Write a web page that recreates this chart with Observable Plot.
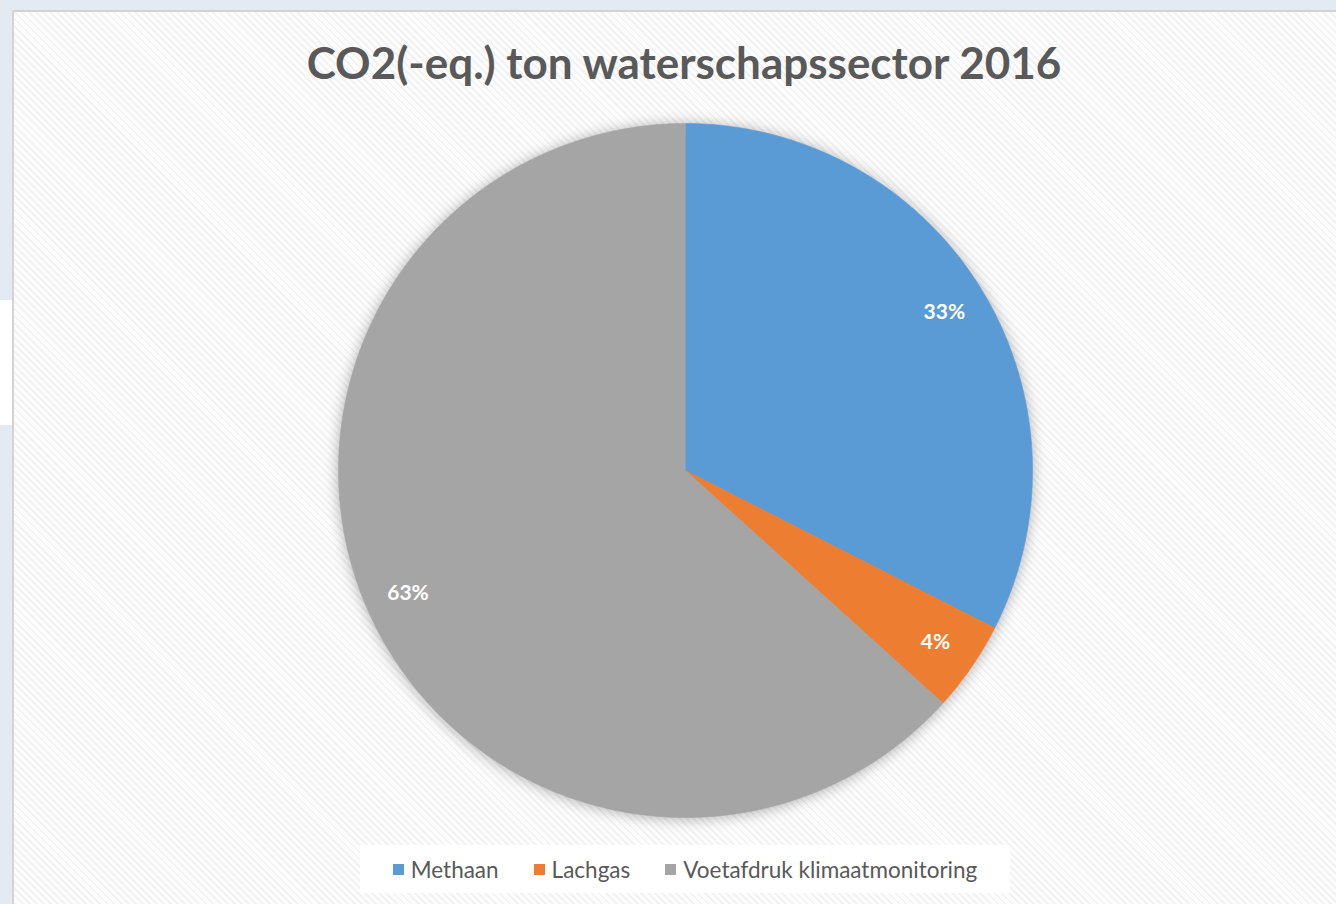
<!DOCTYPE html>
<html><head><meta charset="utf-8">
<script src="https://cdn.jsdelivr.net/npm/d3@7"></script>
<script src="https://cdn.jsdelivr.net/npm/@observablehq/plot@0.6"></script>
<style>
html,body{margin:0;padding:0;}
body{width:1336px;height:904px;background:#e3eaf1;position:relative;overflow:hidden;font-family:Lato,"Open Sans",sans-serif;}
#strip{position:absolute;left:0;top:300px;width:12px;height:125px;background:#fff;}
#frame{position:absolute;left:12px;top:10px;width:1340px;height:910px;box-sizing:border-box;border:2px solid #d3d3d3;
  background:repeating-linear-gradient(45deg,#f2f2f2 0px,#f2f2f2 2px,#fdfdfd 2px,#fdfdfd 5px);}
#title{position:absolute;left:0;width:1368px;top:36px;text-align:center;font-weight:700;font-size:44px;line-height:52px;color:#595959;white-space:nowrap;}
#chart{position:absolute;left:0;top:100px;}
#chart svg g[aria-label="line"]{filter:drop-shadow(0px 1px 7px rgba(0,0,0,0.3));}
#legend{position:absolute;left:360px;top:845px;width:650px;height:48px;background:#fff;display:flex;align-items:center;justify-content:center;gap:35px;font-size:22.5px;color:#595959;}
.item{display:flex;align-items:center;}
.sw{width:11px;height:11px;margin-right:7px;}
</style></head>
<body>
<div id="strip"></div>
<div id="frame"></div>
<div id="title"></div>
<div id="chart"></div>
<div id="legend"></div>
<script>
const titleText = "CO2(-eq.) ton waterschapssector 2016";
const categories = ["Methaan", "Lachgas", "Voetafdruk klimaatmonitoring"];
const values = [32.5, 4.2, 63.3];
const colors = ["#5b9bd5", "#ed7d31", "#a5a5a5"];

document.getElementById("title").textContent = titleText;

const rows = categories.map((c, i) => ({category: c, value: values[i]}));
const total = d3.sum(values);
const arcs = d3.pie().sort(null).value(d => d.value)(rows);

const pts = [];
arcs.forEach(a => {
  const c = a.data.category;
  const n = Math.max(2, Math.ceil((a.endAngle - a.startAngle) / (Math.PI / 360)));
  pts.push({category: c, x: 0, y: 0});
  for (let k = 0; k <= n; k++) {
    const t = a.startAngle + (a.endAngle - a.startAngle) * k / n;
    pts.push({category: c, x: Math.sin(t), y: Math.cos(t)});
  }
});

const labels = arcs.map(a => {
  const m = (a.startAngle + a.endAngle) / 2;
  return {x: 0.875 * Math.sin(m), y: 0.875 * Math.cos(m), text: Math.round(a.data.value / total * 100) + "%"};
});

const plot = Plot.plot({
  width: 1336,
  height: 740,
  margin: 0,
  style: {background: "transparent", overflow: "visible"},
  x: {domain: [-1, 1], range: [338, 1032], axis: null},
  y: {domain: [-1, 1], range: [717, 23], axis: null},
  color: {domain: categories, range: colors},
  marks: [
    Plot.line(pts, {x: "x", y: "y", z: "category", fill: "category", stroke: "category", strokeWidth: 0.6, curve: "linear"}),
    Plot.text(labels, {x: "x", y: "y", text: "text", fill: "white", fontWeight: 700, fontSize: 21, fontFamily: "Lato, sans-serif"})
  ]
});
document.getElementById("chart").appendChild(plot);

const legend = document.getElementById("legend");
categories.forEach((c, i) => {
  const it = document.createElement("div");
  it.className = "item";
  const sw = document.createElement("span");
  sw.className = "sw";
  sw.style.background = colors[i];
  const tx = document.createElement("span");
  tx.textContent = c;
  it.appendChild(sw); it.appendChild(tx);
  legend.appendChild(it);
});
</script>
</body></html>
